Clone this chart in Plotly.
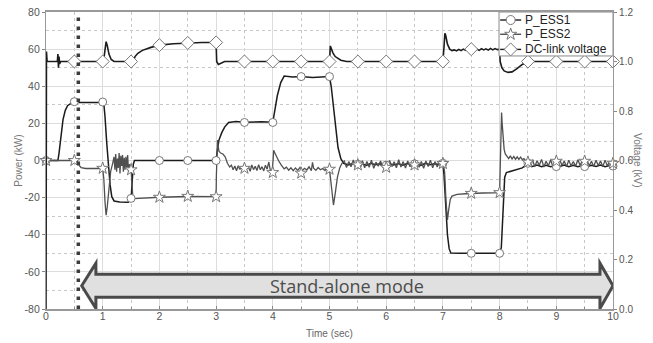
import plotly.graph_objects as go

# ---------------- data ----------------
# DC-link voltage (kV): (time s, value)
VOLTAGE = [
    (0.0, 0.0), (0.008, 1.04), (0.02, 1.0), (0.2, 1.0), (0.21, 1.03), (0.22, 0.975),
    (0.23, 1.02), (0.24, 0.99), (0.26, 1.0), (0.6, 1.0), (1.0, 1.0), (1.02, 1.01),
    (1.04, 1.06), (1.06, 1.08), (1.08, 1.065), (1.11, 1.03), (1.15, 1.008), (1.2, 1.0),
    (1.54, 1.0), (1.57, 1.02), (1.62, 1.033), (1.7, 1.045), (1.85, 1.057), (2.0, 1.066),
    (2.25, 1.072), (2.5, 1.075), (2.75, 1.077), (3.0, 1.077), (3.01, 1.0), (3.04, 0.988),
    (3.08, 0.992), (3.15, 1.0), (4.0, 1.0), (5.0, 1.0), (5.015, 1.063), (5.03, 1.05),
    (5.06, 1.035), (5.1, 1.02), (5.2, 1.005), (5.3, 1.0), (7.0, 1.0), (7.02, 1.06),
    (7.035, 1.114), (7.05, 1.105), (7.08, 1.07), (7.12, 1.05), (7.16, 1.044),
    (7.20, 1.047), (7.24, 1.043), (7.28, 1.049), (7.32, 1.044), (7.36, 1.05), (7.40, 1.045),
    (7.44, 1.051), (7.48, 1.046), (7.52, 1.052), (7.56, 1.046), (7.60, 1.05), (7.64, 1.045),
    (7.68, 1.052), (7.72, 1.047), (7.76, 1.051), (7.80, 1.046), (7.84, 1.053), (7.88, 1.047),
    (7.92, 1.052), (7.96, 1.048), (8.0, 1.05), (8.01, 1.0), (8.04, 0.975), (8.08, 0.962),
    (8.15, 0.956), (8.22, 0.958), (8.3, 0.97), (8.4, 0.988), (8.5, 1.0), (9.0, 1.0),
    (10.0, 1.0),
]

# P_ESS1 (kW): (time s, value)
P_ESS1 = [
    (0.0, 0.0), (0.21, 0.0), (0.23, 4), (0.26, 12), (0.3, 22), (0.34, 27), (0.38, 29.5),
    (0.45, 31), (0.55, 31.3), (0.8, 31.2), (1.0, 31.2), (1.02, 30.5), (1.04, 24), (1.07, 10),
    (1.1, -3), (1.13, -13), (1.16, -19.5), (1.2, -21.8), (1.3, -22.3), (1.45, -22.5),
    (1.5, -21), (1.52, -12), (1.54, -2), (1.56, 0), (2.0, 0), (2.5, 0), (3.0, 0),
    (3.02, 5), (3.05, 11), (3.1, 15), (3.15, 18), (3.22, 20.5), (3.35, 21), (3.5, 20.6),
    (3.8, 20.9), (4.0, 20.6), (4.03, 26), (4.08, 35), (4.14, 42), (4.2, 45.5), (4.35, 45),
    (4.5, 45.2), (4.7, 44.7), (4.9, 45.3), (5.0, 45.2), (5.03, 40), (5.07, 28), (5.11, 16),
    (5.15, 7), (5.2, 1), (5.25, -1.5),
    (5.33, -2.4), (5.41, -1.6), (5.49, -2.5), (5.57, -1.7), (5.65, -2.6), (5.73, -1.5),
    (5.81, -2.3), (5.89, -1.8), (5.97, -2.7), (6.05, -1.6), (6.13, -2.4), (6.21, -1.7),
    (6.29, -2.5), (6.37, -1.6), (6.45, -2.2), (6.53, -1.7), (6.61, -2.6), (6.69, -1.5),
    (6.77, -2.3), (6.85, -1.8), (6.93, -2.2), (7.0, -1.5),
    (7.02, -8), (7.05, -25), (7.08, -40), (7.11, -47.5), (7.14, -49.8), (7.3, -50),
    (7.5, -50), (7.8, -50.2), (8.0, -50), (8.03, -47), (8.05, -35), (8.07, -18), (8.09, -9),
    (8.12, -6.5), (8.2, -5.8), (8.3, -5), (8.4, -4), (8.45, -2.8), (8.5, -2.4),
    (8.58, -3.2), (8.66, -2.5), (8.74, -3.3), (8.82, -2.6), (8.90, -3.4), (8.98, -2.7),
    (9.06, -3.2), (9.14, -2.5), (9.22, -3.4), (9.30, -2.6), (9.38, -3.3), (9.46, -2.7),
    (9.54, -3.4), (9.62, -2.6), (9.70, -3.2), (9.78, -2.5), (9.86, -3.3), (9.94, -2.7),
    (10.0, -3.0),
]

# P_ESS2 (kW): (time s, value)
P_ESS2 = [
    (0.0, 0.0), (0.55, 0.0), (0.58, -2.5), (0.62, -3.8), (0.7, -4.3), (0.8, -4.5),
    (0.9, -4.3), (1.0, -4.2), (1.02, -10), (1.04, -22), (1.06, -29.5), (1.08, -25),
    (1.11, -15), (1.14, -6), (1.18, -1),
    (1.20, 2), (1.215, -5), (1.23, 3.5), (1.245, -6), (1.26, 1), (1.275, -4), (1.29, 4),
    (1.305, -7), (1.32, 2.5), (1.335, -3), (1.35, 3), (1.365, -6), (1.38, 1.5),
    (1.395, -5), (1.41, 2), (1.425, -4), (1.44, 3), (1.455, -6), (1.47, -2),
    (1.5, -4.8), (1.51, -12), (1.53, -19), (1.56, -20.5), (1.7, -20.2), (2.0, -19.8),
    (2.5, -19.4), (2.8, -19.6), (3.0, -19.5),
    (3.005, -8), (3.015, 6), (3.025, 11), (3.035, 8), (3.05, 5), (3.08, 4), (3.12, 3.5),
    (3.16, 2), (3.2, -1.5), (3.24, -3.5),
    (3.27, -2.5), (3.30, -5), (3.33, -3), (3.36, -5.5), (3.39, -2.8), (3.42, -4.8),
    (3.45, -3.2), (3.48, -5.2), (3.51, -2.6), (3.54, -4.5), (3.57, -3.5), (3.60, -5.8),
    (3.63, -2.4), (3.66, -4.9), (3.69, -3.1), (3.72, -5.4), (3.75, -2.2), (3.78, -5),
    (3.81, -3.3), (3.84, -5.6), (3.87, -2.5), (3.90, -4.7), (3.93, -0.8), (3.96, -6),
    (3.99, -5),
    (4.005, 0), (4.015, 5.5), (4.03, 4.5), (4.06, 2.5), (4.1, 0), (4.15, -2.5), (4.2, -4.5),
    (4.24, -3.6), (4.28, -5.2), (4.32, -3.9), (4.36, -5.5), (4.40, -4), (4.44, -5.3),
    (4.48, -3.7), (4.52, -5.4), (4.56, -4.2), (4.60, -5.1), (4.64, -3.4), (4.68, -5.5),
    (4.70, -1), (4.72, -4.1), (4.76, -5.3), (4.80, -3.8), (4.84, -5), (4.88, -4.3),
    (4.92, -5.4), (4.96, -4), (5.0, -4.7),
    (5.02, -10), (5.05, -20), (5.07, -24), (5.1, -18), (5.14, -9), (5.18, -4), (5.22, -1.5),
    (5.26, -0.2), (5.30, -3.8), (5.34, -0.6), (5.38, -3.4), (5.42, 0.3), (5.46, -4.0),
    (5.50, -0.8), (5.54, -3.2), (5.58, -0.1), (5.62, -3.9), (5.66, -0.5), (5.70, -3.6),
    (5.74, 0.2), (5.78, -4.2), (5.82, -0.9), (5.86, -3.1), (5.90, -0.3), (5.94, -3.7),
    (5.98, -0.4), (6.02, -4.1), (6.06, 0.0), (6.10, -3.3), (6.14, -0.7), (6.18, -3.9),
    (6.22, 0.4), (6.26, -3.5), (6.30, -0.6), (6.34, -4.0), (6.38, -0.2), (6.42, -3.4),
    (6.46, -0.8), (6.50, -3.8), (6.54, 0.1), (6.58, -3.6), (6.62, -0.5), (6.66, -4.2),
    (6.70, -0.3), (6.74, -3.2), (6.78, 0.2), (6.82, -3.9), (6.86, -0.6), (6.90, -3.5),
    (6.94, -0.1), (6.98, -3.0),
    (7.0, -1.6), (7.03, -6), (7.055, -22), (7.08, -32), (7.1, -27), (7.13, -21),
    (7.16, -19.2), (7.25, -18.3), (7.4, -17.9), (7.5, -17.7), (7.7, -17.5), (7.9, -17.4),
    (8.0, -17.3), (8.01, -5), (8.025, 18), (8.035, 25.8), (8.045, 20), (8.06, 12),
    (8.08, 6), (8.1, 3.5), (8.13, 2), (8.16, 1), (8.19, 2.5), (8.22, 0.8), (8.25, 2.2),
    (8.28, 0.7), (8.31, 2), (8.34, 0.6), (8.37, 1.8), (8.40, 0.5), (8.43, 1), (8.47, -1),
    (8.50, -0.2), (8.54, -2.9), (8.58, 0.4), (8.62, -3.3), (8.66, -0.1), (8.70, -2.6),
    (8.74, 0.6), (8.78, -3.5), (8.82, -0.4), (8.86, -2.8), (8.90, 0.3), (8.94, -3.2),
    (8.98, -0.2), (9.02, -3.0), (9.06, 0.5), (9.10, -2.7), (9.14, -0.3), (9.18, -3.4),
    (9.22, 0.2), (9.26, -2.9), (9.30, -0.5), (9.34, -3.1), (9.38, 0.4), (9.42, -2.6),
    (9.46, -0.1), (9.50, -3.3), (9.54, 0.3), (9.58, -2.8), (9.62, -0.4), (9.66, -3.2),
    (9.70, 0.1), (9.74, -2.7), (9.78, -0.3), (9.82, -3.4), (9.86, 0.2), (9.90, -2.9),
    (9.94, -0.5), (9.98, -2.4), (10.0, -1.5),
]

# marker samples every 0.5 s
MARKER_T = [0, 0.5, 1.0, 1.5, 2.0, 2.5, 3.0, 3.5, 4.0, 4.5, 5.0, 5.5, 6.0, 6.5, 7.0,
            7.5, 8.0, 8.5, 9.0, 9.5, 10.0]
ESS1_MARK = [0, 31.7, 31.5, -20.4, 0, 0, 0, 20.5, 20.5, 45.2, 45.2, -2.0, -2.5, -1.8,
             -1.5, -50, -50, -1.5, -3.3, -3.3, -3.0]
ESS2_MARK = [0, 0, -4.2, -5.0, -19.8, -19.3, -19.5, -4.2, -6.5, -6.8, -4.7, -2.4, -3.7,
             -2.4, -1.6, -17.7, -17.3, -0.9, -0.4, -0.4, -1.5]
VOLT_MARK_T = [0.5, 1.0, 1.5, 2.0, 2.5, 3.0, 3.5, 4.0, 4.5, 5.0, 5.5, 6.0, 6.5, 7.0, 7.5,
               8.5, 9.0, 9.5, 10.0]
VOLT_MARK = [1.0, 1.0, 1.0, 1.066, 1.075, 1.077, 1.0, 1.0, 1.0, 1.0, 1.0, 1.0, 1.0, 1.0,
             1.05, 1.0, 1.0, 1.0, 1.0]

X_TICKS = [0, 1, 2, 3, 4, 5, 6, 7, 8, 9, 10]
Y_TICKS = [-80, -60, -40, -20, 0, 20, 40, 60, 80]
Y2_TICKS = [0.0, 0.2, 0.4, 0.6, 0.8, 1.0, 1.2]

SERIES_NAMES = ["P_ESS1", "P_ESS2", "DC-link voltage"]
MODE_START = 0.57           # vertical dashed line (s)
MODE_LABEL = "Stand-alone mode"

# ---------------- styling ----------------
FONT = "Liberation Sans, Arial, sans-serif"
TICK_COLOR = "#555555"
MARK_EDGE = "#777777"
TICK_SIZE = 10.5

fig = go.Figure()

t1, v1 = zip(*P_ESS1)
t2, v2 = zip(*P_ESS2)
tv, vv = zip(*VOLTAGE)

fig.add_trace(go.Scatter(x=t1, y=v1, mode="lines", line=dict(color="#1c1c1c", width=1.5),
                         showlegend=False, hoverinfo="skip"))
fig.add_trace(go.Scatter(x=t2, y=v2, mode="lines", line=dict(color="#505050", width=1.3),
                         showlegend=False, hoverinfo="skip"))
fig.add_trace(go.Scatter(x=MARKER_T, y=ESS1_MARK, mode="markers", cliponaxis=False,
                         marker=dict(symbol="circle", size=8, color="white",
                                     line=dict(color=MARK_EDGE, width=1)), showlegend=False))
fig.add_trace(go.Scatter(x=MARKER_T, y=ESS2_MARK, mode="markers", cliponaxis=False,
                         marker=dict(symbol="star", size=9, color="white",
                                     line=dict(color=MARK_EDGE, width=1)), showlegend=False))
fig.add_trace(go.Scatter(x=tv, y=vv, yaxis="y2", mode="lines",
                         line=dict(color="#1c1c1c", width=1.6), showlegend=False,
                         hoverinfo="skip"))
fig.add_trace(go.Scatter(x=VOLT_MARK_T, y=VOLT_MARK, yaxis="y2", mode="markers",
                         cliponaxis=False,
                         marker=dict(symbol="diamond", size=10, color="white",
                                     line=dict(color=MARK_EDGE, width=1)), showlegend=False))

# ---------------- manual legend on an overlay (0..1) axis ----------------
LEG_X0, LEG_X1, LEG_Y0, LEG_Y1 = 0.799, 1.0, 0.852, 1.0
LEG_ROWS = [0.973, 0.925, 0.874]
LEG_SYM = [0.801, 0.838]
LEG_SYMBOLS = ["circle", "star", "diamond"]
LEG_LINE = ["#1c1c1c", "#505050", "#1c1c1c"]

fig.add_trace(go.Scatter(x=[LEG_X0, LEG_X1, LEG_X1, LEG_X0, LEG_X0],
                         y=[LEG_Y0, LEG_Y0, LEG_Y1, LEG_Y1, LEG_Y0],
                         xaxis="x3", yaxis="y3", mode="lines", fill="toself",
                         fillcolor="white", line=dict(color="#8a8a8a", width=1),
                         showlegend=False, hoverinfo="skip", cliponaxis=False))
for name, ry, sym, lc in zip(SERIES_NAMES, LEG_ROWS, LEG_SYMBOLS, LEG_LINE):
    fig.add_trace(go.Scatter(x=LEG_SYM, y=[ry, ry], xaxis="x3", yaxis="y3", mode="lines",
                             line=dict(color=lc, width=1.4), showlegend=False,
                             hoverinfo="skip"))
    fig.add_trace(go.Scatter(x=[sum(LEG_SYM) / 2], y=[ry], xaxis="x3", yaxis="y3",
                             mode="markers", name=name,
                             marker=dict(symbol=sym, size=9 if sym != "diamond" else 10,
                                         color="white", line=dict(color=MARK_EDGE, width=1)),
                             showlegend=False, hoverinfo="skip"))
    fig.add_annotation(x=LEG_SYM[1] + 0.003, y=ry, xref="x3", yref="y3", text=name,
                       showarrow=False, xanchor="left", yanchor="middle",
                       font=dict(family=FONT, size=12, color="#222222"))

# ---------------- dashed mode-change line and double arrow ----------------
fig.add_shape(type="line", xref="x", yref="paper", x0=MODE_START, x1=MODE_START,
              y0=0, y1=1, line=dict(color="#3c3c3c", width=3.5, dash="3.5px,5.5px"))

A_L, A_LB, A_RB, A_R = 0.63, 0.88, 9.77, 10.0
A_C, A_BODY, A_HEAD = -67.5, 6.2, 12.2
arrow_path = (
    f"M {A_L},{A_C} L {A_LB},{A_C + A_HEAD} L {A_LB},{A_C + A_BODY} "
    f"L {A_RB},{A_C + A_BODY} L {A_RB},{A_C + A_HEAD} L {A_R},{A_C} "
    f"L {A_RB},{A_C - A_HEAD} L {A_RB},{A_C - A_BODY} L {A_LB},{A_C - A_BODY} "
    f"L {A_LB},{A_C - A_HEAD} Z"
)
fig.add_shape(type="path", xref="x", yref="y", path=arrow_path,
              fillcolor="#e0e0e0", line=dict(color="#4a4a4a", width=3))
fig.add_annotation(x=(A_L + A_R) / 2, y=A_C, xref="x", yref="y", text=MODE_LABEL,
                   showarrow=False, font=dict(family="Open Sans, sans-serif", size=18,
                                              color="#4d4d4d"))

# axis titles (right one reads top-to-bottom)
fig.add_annotation(x=-0.049, y=0.5, xref="paper", yref="paper", text="Power (kW)",
                   textangle=-90, showarrow=False, xanchor="center", yanchor="middle",
                   font=dict(family=FONT, size=10, color="#777777"))
fig.add_annotation(x=1.043, y=0.5, xref="paper", yref="paper", text="Voltage (kV)",
                   textangle=90, showarrow=False, xanchor="center", yanchor="middle",
                   font=dict(family=FONT, size=10, color="#777777"))
fig.add_annotation(x=0.5, y=-0.081, xref="paper", yref="paper", text="Time (sec)",
                   xanchor="center", yanchor="middle", showarrow=False,
                   font=dict(family=FONT, size=10, color="#666666"))

grid_major = "#dcdcdc"
grid_minor = "#c8c8c8"

fig.update_layout(
    width=653, height=343, autosize=False,
    margin=dict(l=46, r=40, t=12, b=34, pad=0),
    paper_bgcolor="white", plot_bgcolor="white",
    showlegend=False,
    font=dict(family=FONT, size=TICK_SIZE, color=TICK_COLOR),
    xaxis=dict(range=[0, 10], tickvals=X_TICKS, ticktext=[str(v) for v in X_TICKS],
               automargin=False, ticklabelstandoff=-3,
               showgrid=True, gridcolor=grid_major, gridwidth=1,
               minor=dict(dtick=0.5, tick0=0, showgrid=True, gridcolor=grid_minor,
                          griddash="dot", ticks="inside", ticklen=2, tickcolor="#888"),
               ticks="inside", ticklen=3, tickcolor="#888",
               showline=True, linecolor="#999999", linewidth=1.5, mirror=True,
               zeroline=False,
               tickfont=dict(family=FONT, size=TICK_SIZE, color=TICK_COLOR)),
    yaxis=dict(range=[-80, 80], tickvals=Y_TICKS, ticktext=[str(v) for v in Y_TICKS],
               automargin=False,
               showgrid=True, gridcolor=grid_major, gridwidth=1,
               minor=dict(dtick=10, tick0=0, showgrid=True, gridcolor=grid_minor,
                          griddash="dot"),
               ticks="outside", ticklen=3, tickcolor="#888",
               showline=True, linecolor="#999999", linewidth=1.2, mirror=True,
               zeroline=False,
               tickfont=dict(family=FONT, size=TICK_SIZE, color=TICK_COLOR)),
    yaxis2=dict(range=[0, 1.2], overlaying="y", side="right", tickvals=Y2_TICKS,
                automargin=False,
                ticktext=[f"{v:.1f}" for v in Y2_TICKS], showgrid=False, zeroline=False,
                ticks="outside", ticklen=3, tickcolor="#888",
                showline=True, linecolor="#999999", linewidth=1.2,
                tickfont=dict(family=FONT, size=10, color=TICK_COLOR)),
    xaxis3=dict(overlaying="x", range=[0, 1], visible=False, fixedrange=True,
                automargin=False),
    yaxis3=dict(overlaying="y", range=[0, 1], visible=False, fixedrange=True,
                automargin=False),
)

fig.write_html("out.html", config={"displayModeBar": False},
               post_script="document.body.style.margin='0px';")
